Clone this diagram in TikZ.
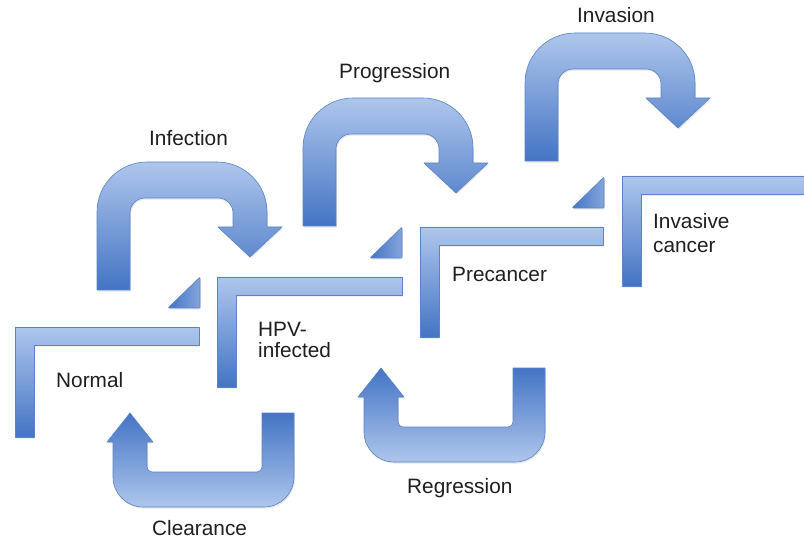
\documentclass[tikz,border=0pt]{standalone}
\usepackage{fontspec}
\setmainfont{Liberation Sans}
\usetikzlibrary{shadows}
\definecolor{blueLight}{HTML}{AEC6EC}
\definecolor{blueDark}{HTML}{4474C4}
\definecolor{blueEdge}{HTML}{5A84C6}
\tikzset{
  shapebase/.style={draw=blueEdge, line width=0.6pt, line join=round,
    drop shadow={opacity=0.18, shadow xshift=0.8pt, shadow yshift=-1.6pt}},
  lightdown/.style={shapebase, top color=blueLight, bottom color=blueDark},
  darkdown/.style={shapebase, top color=blueDark, bottom color=blueLight},
  bracket/.style={shapebase, top color=blueLight, bottom color=blueDark},
  wedge/.style={shapebase, rounded corners=1pt, left color=blueDark, right color=blueLight!60!blueDark},
  lbl/.style={anchor=base west, inner sep=0pt, font=\fontsize{20.8}{21}\selectfont, text=black!88}
}
\newcommand\stageBracket[3]{%
  \draw[bracket] (#1,#2) -- ++(#3,0) -- ++(0,18) -- ++({-#3+19},0) -- ++(0,92) -- ++(-19,0) -- cycle;}
\newcommand\bentArrow{%
  \draw[lightdown] (97,290) -- (97,212) arc(180:270:50) -- (217,162) arc(270:360:50)
    -- (267,227) -- (282,227) -- (250,257) -- (218,227) -- (233,227) -- (233,213)
    arc(360:270:15) -- (145,198) arc(270:180:15) -- (130,290) -- cycle;}
\newcommand\uArrow{%
  \draw[darkdown] (294,413) -- (294,477) arc(0:90:30) -- (143,507) arc(90:180:30)
    -- (113,442) -- (107,442) -- (130,413) -- (153,442) -- (147,442) -- (147,467)
    arc(180:90:5) -- (257,472) arc(90:0:5) -- (262,413) -- cycle;}
\begin{document}
\begin{tikzpicture}[x=1pt, y=-1pt]
\clip (0,0) rectangle (804,540);
\fill[white] (0,0) rectangle (804,540);
% stage brackets
\stageBracket{15}{327}{184}
\stageBracket{217}{277}{185}
\stageBracket{420}{227}{183}
\stageBracket{622}{176}{200}
% small wedges
\draw[wedge] (200,277) -- (200,308) -- (168,308) -- cycle;
\draw[wedge] (402,227) -- (402,258) -- (370,258) -- cycle;
\draw[wedge] (604,177) -- (604,208) -- (572,208) -- cycle;
% forward arrows
\bentArrow
\begin{scope}[shift={(206,-64)}]\bentArrow\end{scope}
\begin{scope}[shift={(428,-129)}]\bentArrow\end{scope}
% backward arrows
\uArrow
\begin{scope}[shift={(251,-45)}]\uArrow\end{scope}
% labels
\node[lbl] (normal) at (56,387) {Normal};
\node[lbl] (hpv1) at (258,337) {HPV-};
\node[lbl] (hpv2) at (258,358) {infected};
\node[lbl] (pre) at (452,282) {Precancer};
\node[lbl] (inv1) at (653,229) {Invasive};
\node[lbl] (inv2) at (653,253) {cancer};
\node[lbl] (infection) at (149,146) {Infection};
\node[lbl] (progression) at (339,79) {Progression};
\node[lbl] (invasion) at (577,23) {Invasion};
\node[lbl] (clearance) at (152,535) {Clearance};
\node[lbl] (regression) at (407,493) {Regression};
\end{tikzpicture}
\end{document}
